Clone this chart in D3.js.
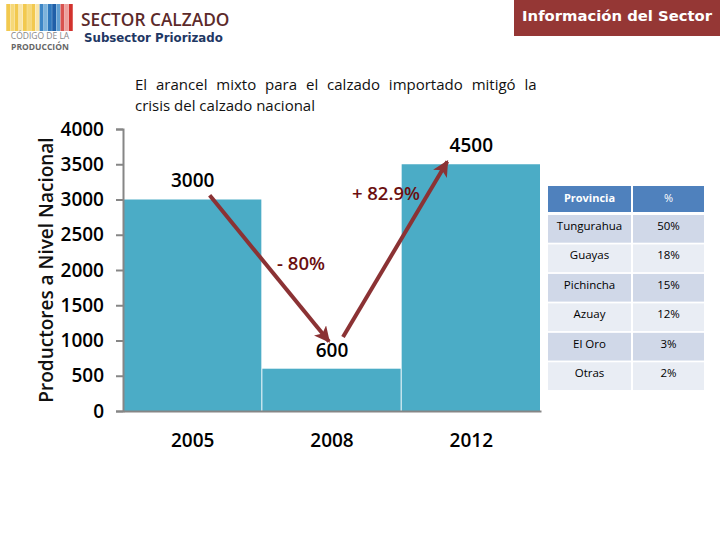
<!DOCTYPE html>
<html>
<head>
<meta charset="utf-8">
<script src="https://cdnjs.cloudflare.com/ajax/libs/d3/7.8.5/d3.min.js"></script>
<style>
html, body { margin: 0; padding: 0; background: #fff; }
svg { display: block; }
text { font-family: "Open Sans", sans-serif; }
</style>
</head>
<body>
<div id="chart"></div>
<script>
var years = ["2005", "2008", "2012"];
var values = [3000, 600, 3500];
var valueLabels = ["3000", "600", "4500"];
var ticks = [0, 500, 1000, 1500, 2000, 2500, 3000, 3500, 4000];

var provinces = ["Tungurahua", "Guayas", "Pichincha", "Azuay", "El Oro", "Otras"];
var shares = ["50%", "18%", "15%", "12%", "3%", "2%"];
var tableHead = ["Provincia", "%"];

// arrows: year band, horizontal offset from band centre, value on the axis
var arrowFrom = [["2005", 17, 3060], ["2008", 11, 1050]];
var arrowTo = [["2008", -3, 985], ["2012", -24, 3540]];
var arrowLabels = ["- 80%", "+ 82.9%"];

var stripeColors = ["#f2c94f", "#f6d878", "#f2c94f", "#f9e5a8", "#f2c94f", "#f6d878", "#f2c94f", "#f9e5a8", "#3d86c6", "#7db3dc", "#2f78bd", "#1f5fa8", "#5f9fd2", "#d9534f", "#eda19e", "#d2322d"];

var svg = d3.select("#chart")
	.append("svg")
	.attr("width", 720)
	.attr("height", 540);

var x = d3.scaleBand().domain(years).range([123, 541]);
var y = d3.scaleLinear().domain([0, 4000]).range([411, 129]);

// header
var logoX = d3.scaleBand().domain(d3.range(stripeColors.length)).range([6, 73]).padding(0.06);
svg.selectAll("rect.stripe")
	.data(stripeColors)
	.enter().append("rect")
	.attr("class", "stripe")
	.attr("x", function(d, i) { return logoX(i); })
	.attr("y", 4)
	.attr("width", logoX.bandwidth())
	.attr("height", 27)
	.attr("fill", function(d) { return d; });
svg.append("text").attr("x", 40).attr("y", 39).attr("text-anchor", "middle")
	.style("font-size", "8.5px").attr("fill", "#888").text("CÓDIGO DE LA");
svg.append("text").attr("x", 40).attr("y", 50).attr("text-anchor", "middle")
	.style("font-size", "8.5px").style("font-weight", 700).attr("fill", "#666").text("PRODUCCIÓN");

svg.append("text").attr("x", 81).attr("y", 26)
	.style("font-size", "17.3px").style("font-weight", 600).attr("fill", "#5c2a2a")
	.text("SECTOR CALZADO");
svg.append("text").attr("x", 84).attr("y", 42)
	.style("font-family", "'DejaVu Sans'").style("font-size", "11.8px").style("font-weight", 700).attr("fill", "#1f3864")
	.text("Subsector Priorizado");

svg.append("rect").attr("x", 514).attr("y", 0).attr("width", 206).attr("height", 36).attr("fill", "#953735");
svg.append("text").attr("x", 712).attr("y", 21).attr("text-anchor", "end")
	.style("font-family", "'DejaVu Sans'").style("font-size", "14.8px").style("font-weight", 700).attr("fill", "#fff")
	.text("Información del Sector");

// subtitle
svg.append("text").attr("x", 135).attr("y", 90)
	.style("font-size", "15px").style("word-spacing", "5px").attr("fill", "#111")
	.text("El arancel mixto para el calzado importado mitigó la");
svg.append("text").attr("x", 135).attr("y", 111)
	.style("font-size", "15px").attr("fill", "#111")
	.text("crisis del calzado nacional");

// bars
svg.selectAll("rect.bar")
	.data(values)
	.enter().append("rect")
	.attr("class", "bar")
	.attr("x", function(d, i) { return x(years[i]); })
	.attr("y", function(d) { return y(d); })
	.attr("width", x.bandwidth() - 1)
	.attr("height", function(d) { return y(0) - y(d); })
	.attr("fill", "#4bacc6");

// axes
var yAxis = svg.append("g")
	.attr("transform", "translate(123,0)")
	.call(d3.axisLeft(y).tickValues(ticks).tickFormat(d3.format("d")).tickSize(7).tickPadding(12));
yAxis.selectAll("path, line").attr("stroke", "#868686").attr("stroke-width", 2);
yAxis.selectAll("text").style("font-size", "19px").style("font-weight", 600).attr("fill", "#000");

var xAxis = svg.append("g")
	.attr("transform", "translate(0,411)")
	.call(d3.axisBottom(x).tickSize(0).tickPadding(16));
xAxis.select("path").attr("stroke", "#868686").attr("stroke-width", 2);
xAxis.selectAll("text").attr("dy", "1.05em").style("font-size", "19px").style("font-weight", 600).attr("fill", "#000");

svg.append("text")
	.attr("transform", "translate(53,270) rotate(-90)")
	.attr("text-anchor", "middle")
	.style("font-size", "19px").style("font-weight", 600).attr("fill", "#111")
	.text("Productores a Nivel Nacional");

// bar value labels
svg.selectAll("text.value")
	.data(valueLabels)
	.enter().append("text")
	.attr("class", "value")
	.attr("text-anchor", "middle")
	.attr("x", function(d, i) { return x(years[i]) + x.bandwidth() / 2; })
	.attr("y", function(d, i) { return y(values[i]) + [-13, -12, -12][i]; })
	.style("font-size", "19px").style("font-weight", 600).attr("fill", "#000")
	.text(function(d) { return d; });

// arrows
svg.append("defs").append("marker")
	.attr("id", "head")
	.attr("viewBox", "0 0 10 10")
	.attr("refX", 9).attr("refY", 5)
	.attr("markerWidth", 4).attr("markerHeight", 4)
	.attr("orient", "auto")
	.append("path")
	.attr("d", "M0,0L10,5L0,10L2.5,5Z")
	.attr("fill", "#8b3234");

function ax(p) { return x(p[0]) + x.bandwidth() / 2 + p[1]; }
svg.selectAll("line.arrow")
	.data(arrowFrom)
	.enter().append("line")
	.attr("class", "arrow")
	.attr("x1", ax)
	.attr("y1", function(d) { return y(d[2]); })
	.attr("x2", function(d, i) { return ax(arrowTo[i]); })
	.attr("y2", function(d, i) { return y(arrowTo[i][2]); })
	.attr("stroke", "#8b3234")
	.attr("stroke-width", 4)
	.attr("marker-end", "url(#head)");

svg.selectAll("text.change")
	.data(arrowLabels)
	.enter().append("text")
	.attr("class", "change")
	.attr("text-anchor", "middle")
	.attr("x", function(d, i) { return [301, 386][i]; })
	.attr("y", function(d, i) { return [270, 200][i]; })
	.style("font-size", "18.5px").style("font-weight", 600).attr("fill", "#6b0f10")
	.text(function(d) { return d; });

// table
var colX = [548, 633];
var colW = [83, 71];
var rowY = d3.scaleBand().domain(d3.range(provinces.length)).range([215, 390]).paddingInner(0.06);

svg.selectAll("rect.head")
	.data(tableHead)
	.enter().append("rect")
	.attr("class", "head")
	.attr("x", function(d, i) { return colX[i]; })
	.attr("y", 186)
	.attr("width", function(d, i) { return colW[i]; })
	.attr("height", 26)
	.attr("fill", "#4f81bd");
svg.selectAll("text.head")
	.data(tableHead)
	.enter().append("text")
	.attr("class", "head")
	.attr("text-anchor", "middle")
	.attr("x", function(d, i) { return colX[i] + colW[i] / 2; })
	.attr("y", 202)
	.style("font-size", "11px").style("font-weight", function(d, i) { return i ? 400 : 700; }).attr("fill", "#fff")
	.text(function(d) { return d; });

var rows = svg.selectAll("g.row")
	.data(provinces)
	.enter().append("g")
	.attr("class", "row")
	.attr("transform", function(d, i) { return "translate(0," + rowY(i) + ")"; });
colX.forEach(function(cx, c) {
	rows.append("rect")
		.attr("x", cx)
		.attr("width", colW[c])
		.attr("height", rowY.bandwidth())
		.attr("fill", function(d, i) { return i % 2 ? "#e9edf4" : "#d0d8e8"; });
	rows.append("text")
		.attr("x", cx + colW[c] / 2)
		.attr("y", 15)
		.attr("text-anchor", "middle")
		.style("font-size", "11.5px").attr("fill", "#000")
		.text(function(d, i) { return c ? shares[i] : provinces[i]; });
});
</script>
</body>
</html>
